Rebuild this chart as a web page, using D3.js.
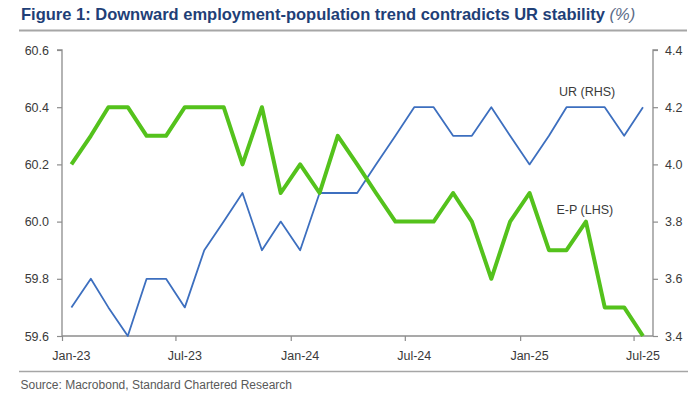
<!DOCTYPE html>
<html>
<head>
<meta charset="utf-8">
<script src="https://cdn.jsdelivr.net/npm/d3@7"></script>
<style>
  body { margin: 0; background: #fff; }
  svg { display: block; font-family: "Liberation Sans", Arial, sans-serif; }
</style>
</head>
<body>
<svg id="chart" width="700" height="394"></svg>
<script>
// monthly data, Jan-23 .. Jul-25
const months = [
  "2023-01","2023-02","2023-03","2023-04","2023-05","2023-06","2023-07","2023-08","2023-09","2023-10","2023-11","2023-12",
  "2024-01","2024-02","2024-03","2024-04","2024-05","2024-06","2024-07","2024-08","2024-09","2024-10","2024-11","2024-12",
  "2025-01","2025-02","2025-03","2025-04","2025-05","2025-06","2025-07"
];
// employment-population ratio (LHS)
const epValues = [
  60.2, 60.3, 60.4, 60.4, 60.3, 60.3, 60.4, 60.4, 60.4, 60.2, 60.4, 60.1,
  60.2, 60.1, 60.3, 60.2, 60.1, 60.0, 60.0, 60.0, 60.1, 60.0, 59.8, 60.0,
  60.1, 59.9, 59.9, 60.0, 59.7, 59.7, 59.6
];
// unemployment rate (RHS)
const urValues = [
  3.5, 3.6, 3.5, 3.4, 3.6, 3.6, 3.5, 3.7, 3.8, 3.9, 3.7, 3.8,
  3.7, 3.9, 3.9, 3.9, 4.0, 4.1, 4.2, 4.2, 4.1, 4.1, 4.2, 4.1,
  4.0, 4.1, 4.2, 4.2, 4.2, 4.1, 4.2
];
const xTickDates = ["2023-01","2023-07","2024-01","2024-07","2025-01","2025-07"];
const xTickLabels = ["Jan-23","Jul-23","Jan-24","Jul-24","Jan-25","Jul-25"];
const leftTicks = [59.6, 59.8, 60.0, 60.2, 60.4, 60.6];
const rightTicks = [3.4, 3.6, 3.8, 4.0, 4.2, 4.4];

const svg = d3.select("#chart");
const parseMonth = d3.timeParse("%Y-%m");
// points sit mid-month, ticks at the start of the month
const midMonth = m => d3.timeDay.offset(parseMonth(m), 15);

const plotLeft = 62, plotRight = 653, plotTop = 50, plotBottom = 336;
const axisColor = "#8c8c8c";
const textColor = "#3a3a3a";

const x = d3.scaleTime()
  .domain([parseMonth("2023-01"), parseMonth("2025-08")])
  .range([plotLeft, plotRight]);
const yL = d3.scaleLinear().domain([59.6, 60.6]).range([plotBottom, plotTop]);
const yR = d3.scaleLinear().domain([3.4, 4.4]).range([plotBottom, plotTop]);

// title
const title = svg.append("text")
  .attr("x", 21)
  .attr("y", 20)
  .attr("font-size", 16.5)
  .attr("fill", "#1f3f77");
title.append("tspan").attr("font-weight", "bold")
  .text("Figure 1: Downward employment-population trend contradicts UR stability ");
title.append("tspan").attr("font-style", "italic").attr("fill", "#5b6b88")
  .text("(%)");

svg.append("line")
  .attr("x1", 19).attr("x2", 687).attr("y1", 30.5).attr("y2", 30.5)
  .attr("stroke", "#a6a6a6").attr("stroke-width", 1.8);

// axes
const leftAxis = d3.axisLeft(yL).tickValues(leftTicks).tickFormat(d3.format(".1f")).tickSize(5).tickPadding(8);
const rightAxis = d3.axisRight(yR).tickValues(rightTicks).tickFormat(d3.format(".1f")).tickSize(5).tickPadding(7);
const bottomAxis = d3.axisBottom(x).tickValues(xTickDates.map(parseMonth)).tickFormat("").tickSize(5);

function styleAxis(g) {
  g.select(".domain").attr("stroke", axisColor).attr("stroke-width", 1.3);
  g.selectAll(".tick line").attr("stroke", axisColor).attr("stroke-width", 1.2);
  g.selectAll(".tick text").attr("fill", textColor).attr("font-size", 12.5)
    .attr("font-family", "Liberation Sans, Arial, sans-serif");
}

svg.append("g").attr("transform", `translate(${plotLeft},0)`).call(leftAxis)
  .call(g => g.select(".domain").attr("d", `M-5,${plotTop}H0V${plotBottom}`))
  .call(styleAxis);
svg.append("g").attr("transform", `translate(${plotRight},0)`).call(rightAxis)
  .call(g => g.select(".domain").attr("d", `M5,${plotTop}H0V${plotBottom}`))
  .call(styleAxis);
svg.append("g").attr("transform", `translate(0,${plotBottom})`).call(bottomAxis)
  .call(g => g.select(".domain").attr("d", `M${plotLeft},0H${plotRight}`))
  .call(styleAxis);

// x labels centred on mid-month
svg.append("g").selectAll("text")
  .data(xTickDates)
  .join("text")
  .attr("x", d => x(midMonth(d)))
  .attr("y", 360)
  .attr("text-anchor", "middle")
  .attr("font-size", 12.5)
  .attr("fill", textColor)
  .text((d, i) => xTickLabels[i]);

// lines
const urLine = d3.line().x((d, i) => x(midMonth(months[i]))).y(d => yR(d));
const epLine = d3.line().x((d, i) => x(midMonth(months[i]))).y(d => yL(d));

svg.append("path")
  .datum(urValues)
  .attr("d", urLine)
  .attr("fill", "none")
  .attr("stroke", "#3d6fbf")
  .attr("stroke-width", 1.8)
  .attr("stroke-linejoin", "round");

svg.append("path")
  .datum(epValues)
  .attr("d", epLine)
  .attr("fill", "none")
  .attr("stroke", "#54c21c")
  .attr("stroke-width", 4)
  .attr("stroke-linejoin", "round");

// series labels
svg.append("text").attr("x", 559).attr("y", 96).attr("font-size", 12.5).attr("fill", textColor).text("UR (RHS)");
svg.append("text").attr("x", 556.5).attr("y", 213.5).attr("font-size", 12.5).attr("fill", textColor).text("E-P (LHS)");

// footer
svg.append("line")
  .attr("x1", 19).attr("x2", 688).attr("y1", 371.5).attr("y2", 371.5)
  .attr("stroke", "#a6a6a6").attr("stroke-width", 1.5);
svg.append("text")
  .attr("x", 20.5).attr("y", 389)
  .attr("font-size", 12)
  .attr("fill", "#595959")
  .text("Source: Macrobond, Standard Chartered Research");
</script>
</body>
</html>
